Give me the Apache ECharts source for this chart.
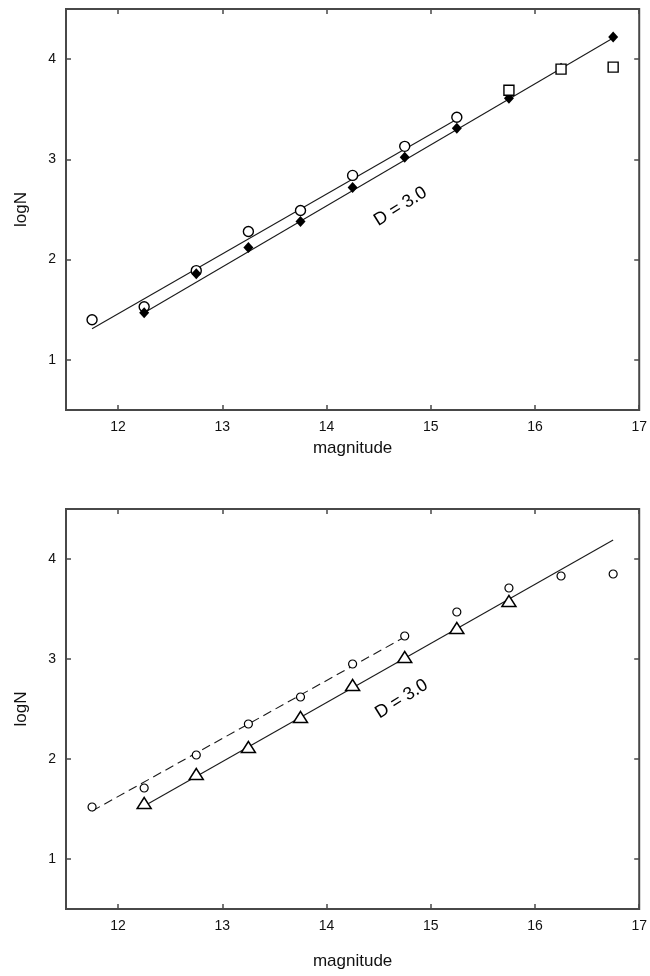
<!DOCTYPE html>
<html>
<head>
<meta charset="utf-8">
<script src="https://cdn.jsdelivr.net/npm/echarts@6/dist/echarts.min.js"></script>
<style>html,body{margin:0;padding:0;background:#fff}#c{width:650px;height:976px}</style>
</head>
<body>
<div id="c"></div>
<script>
// ---- tick labels ----
const xTicks = [12, 13, 14, 15, 16, 17];
const yTicks = [1, 2, 3, 4];

// ---- top panel ----
const topOpenX   = [11.75, 12.25, 12.75, 13.25, 13.75, 14.25, 14.75, 15.25];
const topOpenY   = [1.40, 1.53, 1.89, 2.28, 2.49, 2.84, 3.13, 3.42];
const topFilledX = [12.25, 12.75, 13.25, 13.75, 14.25, 14.75, 15.25, 15.75, 16.25, 16.75];
const topFilledY = [1.47, 1.86, 2.12, 2.38, 2.72, 3.02, 3.31, 3.61, 3.91, 4.22];
const topSquareX = [15.75, 16.25, 16.75];
const topSquareY = [3.69, 3.90, 3.92];
const topFitUpperX = [11.75, 15.25];
const topFitUpperY = [1.31, 3.40];
const topFitLowerX = [12.25, 16.75];
const topFitLowerY = [1.47, 4.21];
const topNoteX = [14.71];
const topNoteY = [2.53];

// ---- bottom panel ----
const botCircleX = [11.75, 12.25, 12.75, 13.25, 13.75, 14.25, 14.75, 15.25, 15.75, 16.25, 16.75];
const botCircleY = [1.52, 1.71, 2.04, 2.35, 2.62, 2.95, 3.23, 3.47, 3.71, 3.83, 3.85];
const botTriX = [12.25, 12.75, 13.25, 13.75, 14.25, 14.75, 15.25, 15.75];
const botTriY = [1.56, 1.85, 2.12, 2.42, 2.74, 3.02, 3.31, 3.58];
const botFitDashX = [11.75, 14.75];
const botFitDashY = [1.48, 3.22];
const botFitSolidX = [12.25, 16.75];
const botFitSolidY = [1.53, 4.19];
const botNoteX = [14.72];
const botNoteY = [2.60];

const noteText = 'D = 3.0';
const xName = 'magnitude';
const yName = 'logN';

const zip = (xs, ys) => xs.map((x, i) => [x, ys[i]]);
const FONT = 'Liberation Sans, Arial, sans-serif';
const frameColor = '#484848';
const inkColor = '#000';
const textColor = '#111';

function xAxes(grid, nameGap) {
  const tick = {show: true, inside: true, length: 5, customValues: xTicks, lineStyle: {color: frameColor, width: 1.5}};
  return [
    {gridIndex: grid, type: 'value', position: 'bottom', min: 11.5, max: 17,
     axisLine: {show: false}, splitLine: {show: false}, axisTick: tick,
     axisLabel: {customValues: xTicks, fontSize: 14, color: textColor, fontFamily: FONT, margin: 10},
     name: xName, nameLocation: 'middle', nameGap: nameGap,
     nameTextStyle: {fontSize: 17, color: textColor, fontFamily: FONT}},
    {gridIndex: grid, type: 'value', position: 'top', min: 11.5, max: 17,
     axisLine: {show: false}, splitLine: {show: false}, axisTick: tick,
     axisLabel: {show: false}}
  ];
}
function yAxes(grid) {
  const tick = {show: true, inside: true, length: 5, customValues: yTicks, lineStyle: {color: frameColor, width: 1.5}};
  return [
    {gridIndex: grid, type: 'value', position: 'left', min: 0.5, max: 4.5,
     axisLine: {show: false}, splitLine: {show: false}, axisTick: tick,
     axisLabel: {customValues: yTicks, fontSize: 14, color: textColor, fontFamily: FONT, margin: 10},
     name: yName, nameLocation: 'middle', nameGap: 36,
     nameTextStyle: {fontSize: 17, color: textColor, fontFamily: FONT}},
    {gridIndex: grid, type: 'value', position: 'right', min: 0.5, max: 4.5,
     axisLine: {show: false}, splitLine: {show: false}, axisTick: tick,
     axisLabel: {show: false}}
  ];
}

function fitLine(xs, ys, xi, yi, dashed) {
  return {type: 'line', xAxisIndex: xi, yAxisIndex: yi, data: zip(xs, ys), symbol: 'none',
          silent: true, z: 2,
          lineStyle: {color: '#1a1a1a', width: 1.1, type: dashed ? [9, 5] : 'solid'}};
}
function marks(xs, ys, xi, yi, symbol, size, filled, z, bw) {
  return {type: 'scatter', xAxisIndex: xi, yAxisIndex: yi, data: zip(xs, ys), symbol: symbol,
          symbolSize: size, z: z || 3,
          itemStyle: filled ? {color: inkColor, opacity: 1}
                            : {color: '#fff', borderColor: inkColor, borderWidth: bw || 1.4, opacity: 1}};
}
function note(xs, ys, xi, yi) {
  return {type: 'scatter', xAxisIndex: xi, yAxisIndex: yi, data: zip(xs, ys), symbolSize: 1, silent: true, z: 5,
          itemStyle: {color: 'rgba(0,0,0,0)', opacity: 1},
          label: {show: true, position: 'inside', formatter: noteText, rotate: 32, opacity: 1,
                  fontSize: 18, color: '#000', fontFamily: FONT}};
}

const chart = echarts.init(document.getElementById('c'), null, {renderer: 'canvas'});
chart.setOption({
  animation: false,
  backgroundColor: '#fff',
  grid: [
    {left: 66, top: 9, right: 8, height: 401, show: true, borderColor: frameColor, borderWidth: 2, backgroundColor: 'transparent'},
    {left: 66, top: 509, right: 8, height: 400, show: true, borderColor: frameColor, borderWidth: 2, backgroundColor: 'transparent'}
  ],
  xAxis: [...xAxes(0, 30), ...xAxes(1, 44)],
  yAxis: [...yAxes(0), ...yAxes(1)],
  series: [
    fitLine(topFitUpperX, topFitUpperY, 0, 0, false),
    fitLine(topFitLowerX, topFitLowerY, 0, 0, false),
    marks(topOpenX, topOpenY, 0, 0, 'circle', 10, false),
    marks(topFilledX, topFilledY, 0, 0, 'diamond', [10, 11], true),
    marks(topSquareX, topSquareY, 0, 0, 'rect', 10, false, 4),
    note(topNoteX, topNoteY, 0, 0),
    fitLine(botFitDashX, botFitDashY, 2, 2, true),
    fitLine(botFitSolidX, botFitSolidY, 2, 2, false),
    marks(botCircleX, botCircleY, 2, 2, 'circle', 8, false, 3, 1.2),
    marks(botTriX, botTriY, 2, 2, 'triangle', [14, 11], false, 4, 1.5),
    note(botNoteX, botNoteY, 2, 2)
  ]
});
</script>
</body>
</html>
